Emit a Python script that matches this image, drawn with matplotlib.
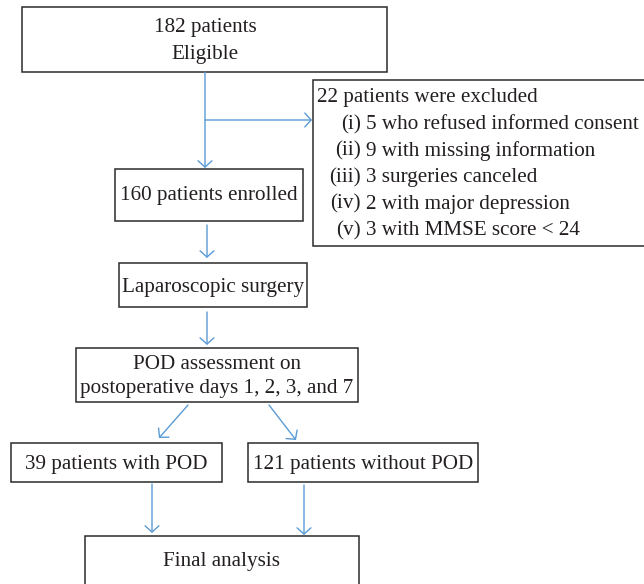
import matplotlib.pyplot as plt
from matplotlib.patches import Rectangle

# flowchart text
eligible_lines = ["182 patients", "Eligible"]
excluded_title = "22 patients were excluded"
excluded_labels = ["(i)", "(ii)", "(iii)", "(iv)", "(v)"]
excluded_items = [
    "5 who refused informed consent",
    "9 with missing information",
    "3 surgeries canceled",
    "2 with major depression",
    "3 with MMSE score < 24",
]
enrolled_text = "160 patients enrolled"
surgery_text = "Laparoscopic surgery"
assessment_lines = ["POD assessment on", "postoperative days 1, 2, 3, and 7"]
group_texts = ["39 patients with POD", "121 patients without POD"]
final_text = "Final analysis"

TEXT_COLOR = '#231f20'
EDGE_COLOR = '#2b2b2b'
ARROW_COLOR = '#5b9bd5'
FONT = 'Liberation Serif'
FS = 15.2

fig = plt.figure(figsize=(6.44, 5.84), dpi=100)
ax = fig.add_axes([0, 0, 1, 1])
ax.set_xlim(0, 644)
ax.set_ylim(584, 0)
ax.axis('off')


def box(x0, y0, x1, y1):
    ax.add_patch(Rectangle((x0, y0), x1 - x0, y1 - y0, facecolor='white',
                           edgecolor=EDGE_COLOR, linewidth=1.1, clip_on=True))


def label(x, y, s, ha='center'):
    # small nudge down so the glyph body sits where the reference has it
    ax.text(x, y + 2.5, s, ha=ha, va='center', fontsize=FS, family=FONT,
            color=TEXT_COLOR)


def arrow(x0, y0, x1, y1):
    ax.annotate('', xy=(x1, y1), xytext=(x0, y0),
                arrowprops=dict(arrowstyle='->,head_length=0.45,head_width=0.5',
                                color=ARROW_COLOR, lw=1.0,
                                shrinkA=0, shrinkB=0))


# top box
box(22, 7, 387, 72)
label(205, 25, eligible_lines[0])
label(205, 52, eligible_lines[1])

# main vertical arrow + branch to exclusion
arrow(205, 72, 205, 168)
arrow(205, 120, 312, 120)

# exclusion box (runs off the right edge)
box(313, 80, 660, 246)
label(317, 95, excluded_title, ha='left')
for i, (lab, item) in enumerate(zip(excluded_labels, excluded_items)):
    y = 122 + i * 26.6
    label(361, y, lab, ha='right')
    label(366, y, item, ha='left')

# enrolled
box(115, 169, 303, 221)
label(209, 193, enrolled_text)
arrow(207, 225, 207, 258)

# surgery
box(119, 263, 307, 307)
label(213, 285, surgery_text)
arrow(207, 312, 207, 345)

# POD assessment
box(76, 348, 358, 402)
label(217, 362, assessment_lines[0])
label(217, 386, assessment_lines[1])

arrow(188, 405, 159, 438)
arrow(269, 405, 296, 440)

# groups
box(11, 443, 222, 482)
label(116, 462, group_texts[0])
box(248, 443, 478, 482)
label(363, 462, group_texts[1])

arrow(152, 484, 152, 533)
arrow(304, 485, 304, 535)

# final
box(85, 536, 359, 600)
label(222, 559, final_text)

fig.savefig('out.png', dpi=100)
